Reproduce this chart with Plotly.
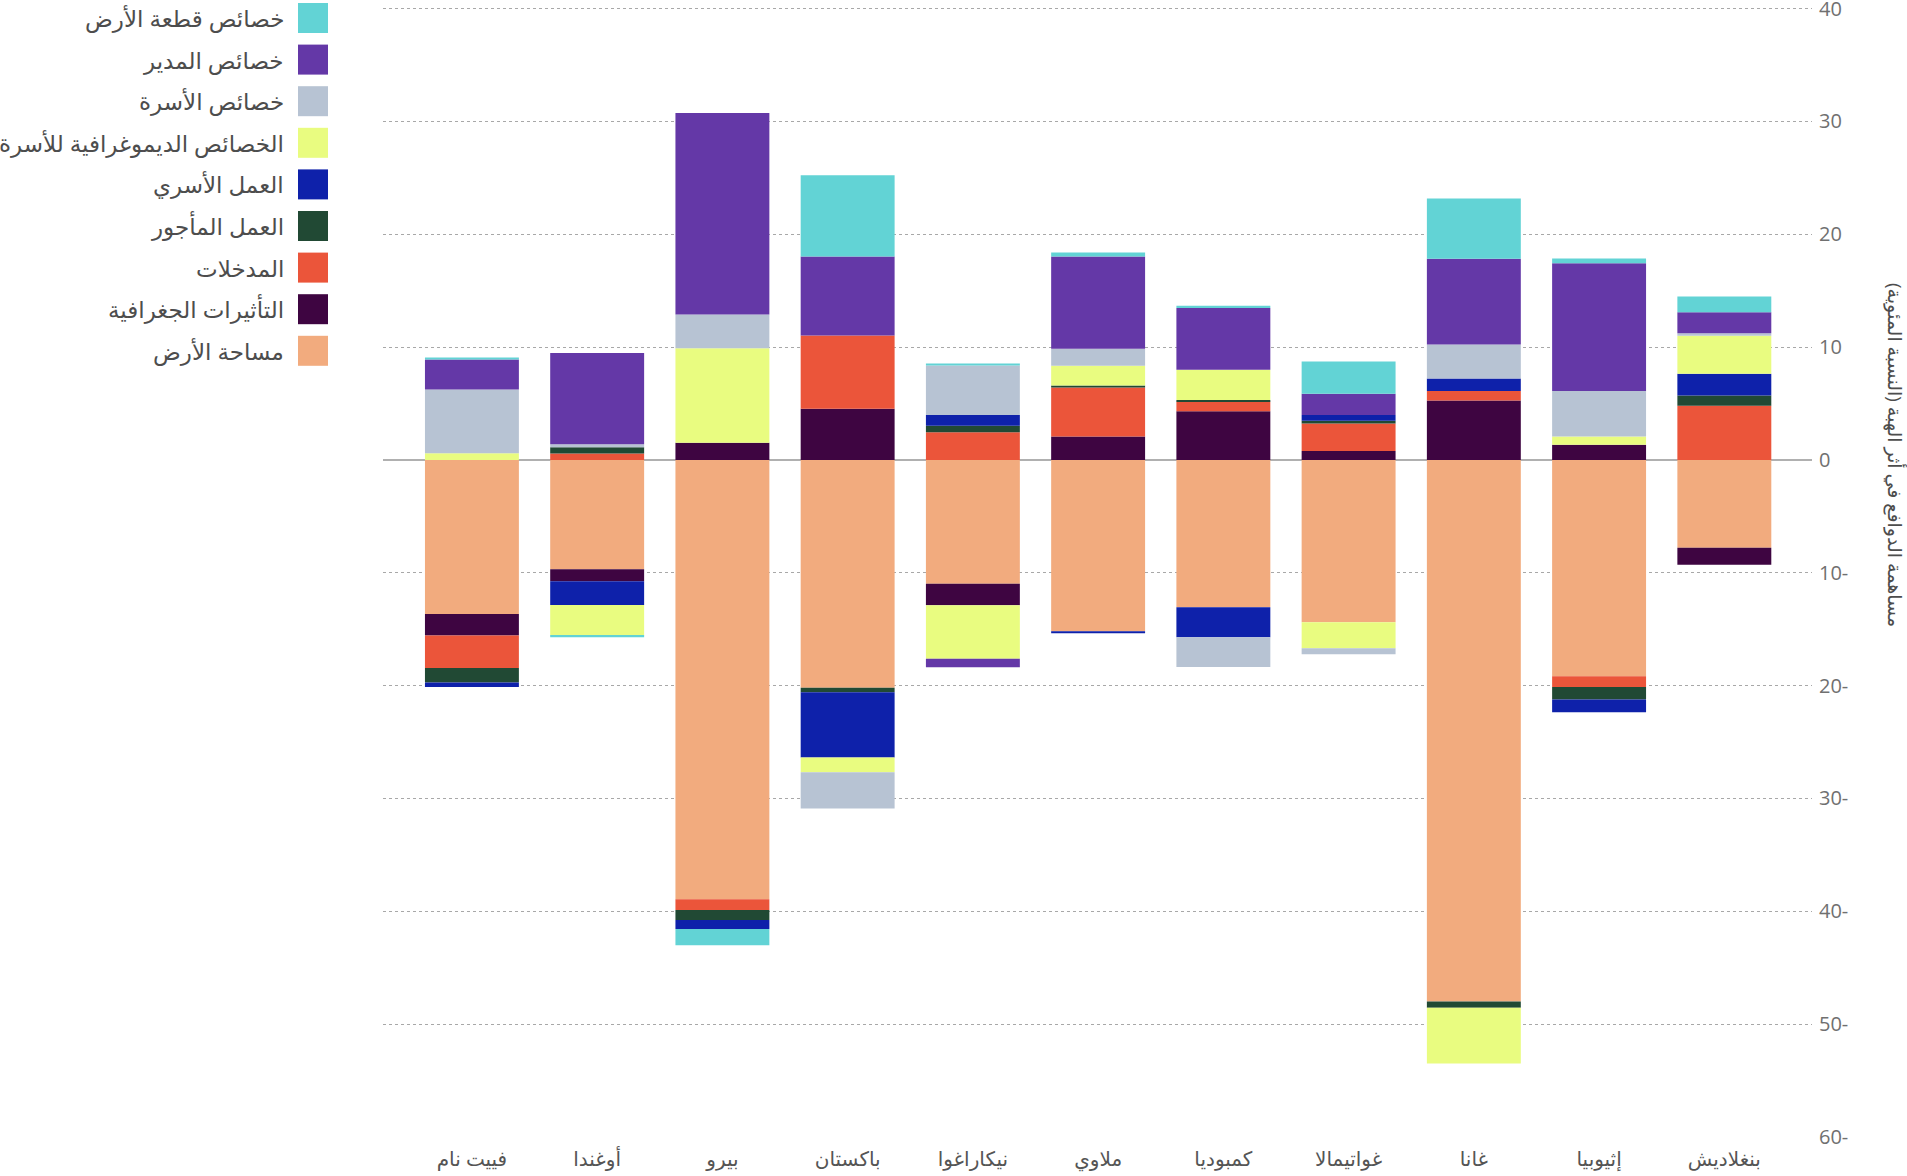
import plotly.graph_objects as go

countries = ["فييت نام", "أوغندا", "بيرو", "باكستان", "نيكاراغوا", "ملاوي",
             "كمبوديا", "غواتيمالا", "غانا", "إثيوبيا", "بنغلاديش"]

# series in stacking order (bottom-most first)
land_area = [-13.66, -9.7, -38.93, -20.2, -10.97, -15.19, -13.06, -14.39, -47.99, -19.18, -7.78]
geo_effects = [-1.89, -1.06, 1.52, 4.53, -1.92, 2.08, 4.32, 0.78, 5.27, 1.35, -1.51]
inputs = [-2.89, 0.57, -0.95, 6.5, 2.46, 4.34, 0.83, 2.45, 0.83, -0.94, 4.8]
hired_labor = [-1.29, 0.56, -0.88, -0.4, 0.57, 0.18, 0.15, 0.24, -0.56, -1.12, 0.91]
family_labor = [-0.39, -2.1, -0.8, -5.78, 0.94, -0.18, -2.66, 0.5, 1.12, -1.13, 1.93]
demographics = [0.58, -2.69, 8.38, -1.3, -4.72, 1.74, 2.69, -2.31, -4.93, 0.73, 3.36]
household = [5.65, 0.25, 2.99, -3.22, 4.4, 1.51, -2.63, -0.53, 3.01, 4.02, 0.23]
manager = [2.66, 8.1, 17.86, 7.0, -0.77, 8.17, 5.46, 1.89, 7.59, 11.33, 1.86]
plot_chars = [0.18, -0.17, -1.44, 7.2, 0.18, 0.36, 0.21, 2.86, 5.34, 0.42, 1.39]

series_names = ["مساحة الأرض", "التأثيرات الجغرافية", "المدخلات", "العمل المأجور",
                "العمل الأسري", "الخصائص الديموغرافية للأسرة", "خصائص الأسرة",
                "خصائص المدير", "خصائص قطعة الأرض"]
series_values = [land_area, geo_effects, inputs, hired_labor, family_labor,
                 demographics, household, manager, plot_chars]
series_colors = ["#f2ab7e", "#3e0541", "#eb553a", "#214934", "#0e21aa",
                 "#e9fc80", "#b7c3d3", "#6438a7", "#62d3d5"]

y_tick_vals = [-60, -50, -40, -30, -20, -10, 0, 10, 20, 30, 40]
y_tick_text = ["60-", "50-", "40-", "30-", "20-", "10-", "0", "10", "20", "30", "40"]
y_title = "مساهمة الدوافع في أثر الهبة (النسبة المئوية)"

W, H = 1907, 1176
L, R, T, B = 383, 95, 5, 39
PW, PH = W - L - R, H - T - B


def px(x):
    return (x - L) / PW


def py(y):
    return (H - B - y) / PH


fig = go.Figure()
for name, vals, col in zip(series_names, series_values, series_colors):
    fig.add_trace(go.Bar(x=countries, y=vals, name=name,
                         marker=dict(color=col, line=dict(width=0)),
                         showlegend=False))

# manual RTL legend (swatch on the right of the text)
shapes = []
annotations = []
legend_order = list(reversed(range(len(series_names))))
for i, idx in enumerate(legend_order):
    top = 3 + i * 41.6
    shapes.append(dict(type="rect", xref="paper", yref="paper",
                       x0=px(298), x1=px(328), y0=py(top + 30), y1=py(top),
                       fillcolor=series_colors[idx], line=dict(width=0)))
    annotations.append(dict(xref="paper", yref="paper", x=px(286), y=py(top + 15),
                            text=series_names[idx], showarrow=False,
                            xanchor="right", yanchor="middle",
                            font=dict(size=23, color="#4d4d4d")))

annotations.append(dict(xref="paper", yref="paper", x=px(1895), y=py(455),
                        text=y_title, textangle=90, showarrow=False,
                        xanchor="center", yanchor="middle",
                        font=dict(size=19, color="#4d4d4d")))

fig.update_layout(
    barmode="relative",
    bargap=0.25,
    width=W, height=H, autosize=False,
    margin=dict(l=L, r=R, t=T, b=B, pad=0, autoexpand=False),
    paper_bgcolor="white", plot_bgcolor="white",
    font=dict(family="Open Sans, DejaVu Sans, sans-serif", color="#555555"),
    shapes=shapes,
    annotations=annotations,
    xaxis=dict(showgrid=False, showline=False, ticks="", automargin=False,
               tickfont=dict(size=20, color="#555555"), ticklabelstandoff=8,
               range=[-0.71, 10.7]),
    yaxis=dict(side="right", range=[-60, 40.31], tickvals=y_tick_vals, ticktext=y_tick_text,
               showgrid=True, gridcolor="#a8a8a8", griddash="dot", gridwidth=1,
               zeroline=True, zerolinecolor="#b0b0b0", zerolinewidth=2,
               showline=False, ticks="", ticklabelstandoff=6, automargin=False,
               ticklabeloverflow="allow",
               tickfont=dict(size=20, color="#707070")),
)

fig.write_html("out.html")
